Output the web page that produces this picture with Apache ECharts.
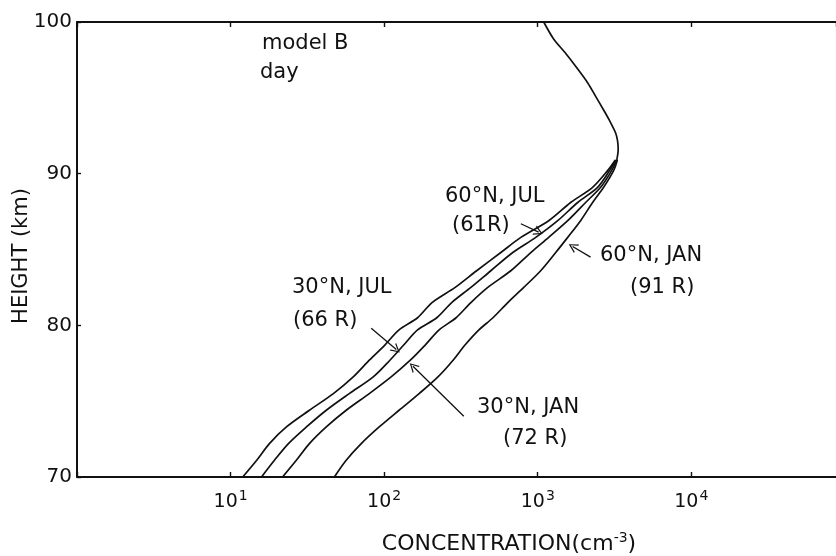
<!DOCTYPE html>
<html>
<head>
<meta charset="utf-8">
<script src="https://cdn.jsdelivr.net/npm/echarts@6/dist/echarts.min.js"></script>
<style>
  html, body { margin: 0; padding: 0; background: #fff; }
  #chart { width: 836px; height: 556px; }
</style>
</head>
<body>
<div id="chart"></div>
<script>
// heights (km) shared by the four lower branches
const lowHeights = [70.0, 71.1, 72.2, 73.3, 74.4, 75.5, 76.6, 77.7, 78.7, 79.7, 80.5,
  81.5, 82.5, 83.6, 84.8, 85.8, 86.9, 88.1, 89.1, 90.2, 90.9];

// concentrations (cm^-3) per case
const conc60NJul = [12.0, 14.8, 17.9, 23.1, 32.6, 46.7, 62.9, 80, 101, 125, 165,
  205, 290, 400, 575, 776, 1178, 1638, 2276, 2850, 3200];
const conc30NJul = [15.9, 19.3, 23.8, 31.2, 42.0, 59.3, 84.9, 109, 134, 165, 220,
  275, 367, 495, 688, 971, 1349, 1820, 2453, 2935, 3230];
const conc30NJan = [21.8, 26.8, 32.6, 42.0, 56.6, 80, 111, 148, 185, 228, 294,
  367, 473, 668, 901, 1178, 1567, 2050, 2566, 3027, 3260];
const conc60NJan = [47.4, 56.6, 70.9, 92.8, 125, 169, 224, 281, 336, 414, 511,
  638, 811, 1045, 1309, 1567, 1901, 2276, 2684, 3118, 3300];

// common part above ~91 km
const upperHeights = [90.9, 91.6, 92.2, 92.7, 93.5, 94.2, 95.1, 96.0, 97.0, 98.0, 98.9, 100.0];
const upperConc = [3270, 3340, 3306, 3210, 2935, 2684, 2382, 2112, 1790, 1500, 1265, 1094];

// arrows from labels to curves: [conc, height] tail -> head
const arrow60NJul = [[776, 86.7], [1014, 86.15]];
const arrow30NJul = [[82.4, 79.8], [120, 78.4]];
const arrow30NJan = [[330, 74.0], [154, 77.3]];
const arrow60NJan = [[2208, 84.5], [1687, 85.2]];

const yTicks = [70, 80, 90, 100];
const xMin = 1;
const xMax = 87500;

const FONT = "'DejaVu Sans', sans-serif";
const INK = '#111';
// open "V" arrowhead, tip at the top
const OPEN_ARROW = 'path://M5,0 L10,10 L8.6,10 L5,2.6 L1.4,10 L0,10 Z';

const pairs = (xs, ys) => xs.map((x, i) => [x, ys[i]]);

const arrowMark = (a) => ({
  silent: true,
  animation: false,
  symbol: ['none', OPEN_ARROW],
  symbolSize: [10, 9],
  label: { show: false },
  lineStyle: { color: INK, width: 1.3, type: 'solid' },
  emphasis: { disabled: true },
  data: [[{ coord: a[0] }, { coord: a[1] }]]
});

const curve = (name, conc, arrow) => ({
  name: name,
  type: 'line',
  data: pairs(conc, lowHeights),
  showSymbol: false,
  smooth: 0.3,
  lineStyle: { color: INK, width: 1.7 },
  silent: true,
  markLine: arrowMark(arrow)
});

const supLabel = (v) => {
  const e = Math.log10(v);
  if (Math.abs(e - Math.round(e)) > 0.01 || Math.round(e) === 0) return '';
  return '10{s|' + Math.round(e) + '}';
};

const label = (x, y, text) => ({
  type: 'text', x: x, y: y,
  style: { text: text, fontSize: 21, fontFamily: FONT, fill: INK, verticalAlign: 'middle' }
});

const chart = echarts.init(document.getElementById('chart'), null, { renderer: 'canvas' });

chart.setOption({
  animation: false,
  backgroundColor: '#fff',
  grid: { left: 77, top: 22, right: 0, bottom: 79, outerBoundsMode: 'none', containLabel: false },
  xAxis: [
    {
      type: 'log',
      min: xMin,
      max: xMax,
      position: 'bottom',
      axisLine: { lineStyle: { color: INK, width: 2 } },
      axisTick: { inside: true, length: 5, lineStyle: { color: INK, width: 1.4 } },
      splitLine: { show: false },
      axisLabel: {
        color: INK,
        fontFamily: FONT,
        fontSize: 19,
        margin: 12,
        showMaxLabel: false,
        formatter: supLabel,
        rich: { s: { fontSize: 14, fontFamily: FONT, color: INK, verticalAlign: 'top', padding: [0, 0, 12, 1] } }
      }
    },
    {
      type: 'log',
      min: xMin,
      max: xMax,
      position: 'top',
      axisLine: { lineStyle: { color: INK, width: 2 } },
      axisTick: { inside: true, length: 5, lineStyle: { color: INK, width: 1.4 } },
      splitLine: { show: false },
      axisLabel: { show: false }
    }
  ],
  yAxis: {
    type: 'value',
    min: yTicks[0],
    max: yTicks[yTicks.length - 1],
    interval: 10,
    axisLine: { lineStyle: { color: INK, width: 2 } },
    axisTick: { inside: true, length: 4, lineStyle: { color: INK, width: 1.4 } },
    splitLine: { show: false },
    axisLabel: { color: INK, fontFamily: FONT, fontSize: 20, margin: 5 }
  },
  series: [
    curve('60N JUL', conc60NJul, arrow60NJul),
    curve('30N JUL', conc30NJul, arrow30NJul),
    curve('30N JAN', conc30NJan, arrow30NJan),
    curve('60N JAN', conc60NJan, arrow60NJan),
    {
      name: 'upper',
      type: 'line',
      data: pairs(upperConc, upperHeights),
      showSymbol: false,
      smooth: 0.3,
      silent: true,
      lineStyle: { color: INK, width: 1.7 }
    }
  ],
  graphic: [
    label(262, 44, 'model B'),
    label(260, 73, 'day'),
    label(445, 197, '60°N, JUL'),
    label(452, 226, '(61R)'),
    label(600, 256, '60°N, JAN'),
    label(630, 288, '(91 R)'),
    label(292, 288, '30°N, JUL'),
    label(293, 321, '(66 R)'),
    label(477, 408, '30°N, JAN'),
    label(503, 439, '(72 R)'),
    {
      type: 'text', x: 22, y: 256, rotation: Math.PI / 2,
      style: { text: 'HEIGHT (km)', fontSize: 21, fontFamily: FONT, fill: INK, align: 'center', verticalAlign: 'middle' }
    },
    {
      type: 'text', x: 509, y: 544,
      style: {
        text: 'CONCENTRATION(cm{s|-3})',
        fontSize: 22, fontFamily: FONT, fill: INK, align: 'center', verticalAlign: 'middle',
        rich: { s: { fontSize: 14, fontFamily: FONT, fill: INK, verticalAlign: 'top', padding: [0, 0, 12, 0] } }
      }
    }
  ]
});
</script>
</body>
</html>
